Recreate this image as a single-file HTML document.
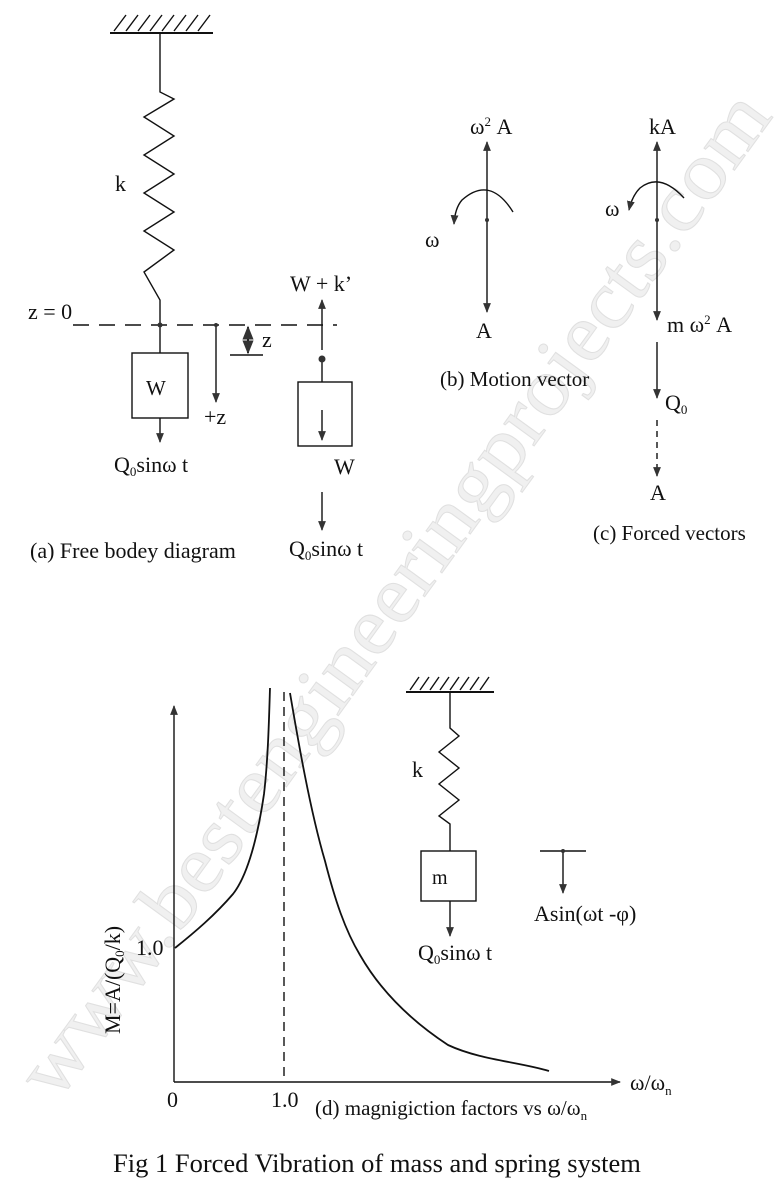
<!DOCTYPE html>
<html><head><meta charset="utf-8"><style>
html,body{margin:0;padding:0;background:#fff}
svg{display:block}
text{font-family:"Liberation Serif",serif;fill:#111}
</style></head><body>
<svg width="775" height="1200" viewBox="0 0 775 1200" xmlns="http://www.w3.org/2000/svg">
<defs>
<marker id="ah" viewBox="0 0 10 10" refX="9" refY="5" markerWidth="7" markerHeight="7" orient="auto-start-reverse"><path d="M0,1 L10,5 L0,9 z" fill="#333"/></marker>
</defs>
<!-- watermark -->
<text x="395" y="620" text-anchor="middle" font-size="82" transform="rotate(-54 395 595)" style="fill:#f0f0f0;stroke:#e0e0e0;stroke-width:1" textLength="1220" lengthAdjust="spacingAndGlyphs">www.bestengineeringprojects.com</text>

<g stroke="#111" stroke-width="1.4" fill="none">
<!-- (a) ground -->
<line x1="110" y1="33" x2="213" y2="33" stroke-width="2"/>
<path d="M114,31 l12,-16 M126,31 l12,-16 M138,31 l12,-16 M150,31 l12,-16 M162,31 l12,-16 M174,31 l12,-16 M186,31 l12,-16 M198,31 l12,-16"/>
<polyline points="160,33 160,92 174,99 144,117 174,136 144,155 174,174 144,193 174,212 144,231 174,250 144,272 160,300 160,353"/>
<line x1="73" y1="325" x2="337" y2="325" stroke-dasharray="16,10"/>
<rect x="132" y="353" width="56" height="65"/>
<line x1="160" y1="418" x2="160" y2="442" marker-end="url(#ah)"/>
<line x1="216" y1="325" x2="216" y2="402" marker-end="url(#ah)"/>
<line x1="248" y1="327" x2="248" y2="353" marker-start="url(#ah)" marker-end="url(#ah)" stroke-width="2"/>
<line x1="230" y1="355" x2="263" y2="355"/>
<line x1="322" y1="350" x2="322" y2="300" marker-end="url(#ah)"/>
<rect x="298" y="382" width="54" height="64"/>
<line x1="322" y1="358" x2="322" y2="382"/>
<line x1="322" y1="410" x2="322" y2="440" marker-end="url(#ah)"/>
<line x1="322" y1="492" x2="322" y2="530" marker-end="url(#ah)"/>

<!-- (b) -->
<line x1="487" y1="220" x2="487" y2="142" marker-end="url(#ah)"/>
<line x1="487" y1="220" x2="487" y2="312" marker-end="url(#ah)"/>
<path d="M513,212 Q490,175 462,200 Q455,208 454,224" marker-end="url(#ah)"/>
<!-- (c) -->
<line x1="657" y1="220" x2="657" y2="142" marker-end="url(#ah)"/>
<line x1="657" y1="220" x2="657" y2="320" marker-end="url(#ah)"/>
<path d="M684,198 Q660,172 640,188 Q632,196 629,210" marker-end="url(#ah)"/>
<line x1="657" y1="342" x2="657" y2="398" marker-end="url(#ah)"/>
<line x1="657" y1="420" x2="657" y2="476" stroke-dasharray="6,5" marker-end="url(#ah)"/>

<!-- (d) axes -->
<line x1="174" y1="1082" x2="174" y2="706" marker-end="url(#ah)"/>
<line x1="174" y1="1082" x2="620" y2="1082" marker-end="url(#ah)"/>
<line x1="284" y1="692" x2="284" y2="1082" stroke-dasharray="9,6"/>
<path d="M175,948 C195,932 215,915 233,894 C248,875 258,835 264,794 C268,760 269,720 270,688" stroke-width="1.8"/>
<path d="M290,693 C298,740 310,810 325,861 C335,900 345,930 360,955 C380,990 410,1020 448,1045 C480,1060 520,1062 549,1071" stroke-width="1.8"/>
<!-- small system -->
<line x1="406" y1="692" x2="494" y2="692" stroke-width="2"/>
<path d="M410,690 l9,-13 M420,690 l9,-13 M430,690 l9,-13 M440,690 l9,-13 M450,690 l9,-13 M460,690 l9,-13 M470,690 l9,-13 M480,690 l9,-13"/>
<polyline points="450,692 450,728 459,736 439,752 459,768 439,784 459,800 439,816 450,824 450,851"/>
<rect x="421" y="851" width="55" height="50"/>
<line x1="450" y1="901" x2="450" y2="936" marker-end="url(#ah)"/>
<line x1="540" y1="851" x2="586" y2="851"/>
<line x1="563" y1="851" x2="563" y2="893" marker-end="url(#ah)"/>
</g>
<g fill="#333">
<circle cx="160" cy="325" r="2.5"/><circle cx="216" cy="325" r="2"/>
<circle cx="322" cy="359" r="3.5"/>
<circle cx="487" cy="220" r="2"/><circle cx="657" cy="220" r="2"/>
<circle cx="563" cy="851" r="2"/>
</g>

<g font-size="22">
<text x="115" y="191">k</text>
<text x="28" y="319">z = 0</text>
<text x="262" y="347">z</text>
<text x="146" y="395" font-size="21">W</text>
<text x="204" y="424">+z</text>
<text x="114" y="472">Q<tspan font-size="13" dy="4">0</tspan><tspan dy="-4">sinω t</tspan></text>
<text x="290" y="291">W + k’</text>
<text x="334" y="474">W</text>
<text x="289" y="556">Q<tspan font-size="13" dy="4">0</tspan><tspan dy="-4">sinω t</tspan></text>
<text x="30" y="558" font-size="22">(a) Free bodey diagram</text>

<text x="470" y="134">ω<tspan font-size="13" dy="-8">2</tspan><tspan dy="8"> A</tspan></text>
<text x="425" y="247">ω</text>
<text x="476" y="338">A</text>
<text x="440" y="386" font-size="21">(b) Motion vector</text>

<text x="649" y="134">kA</text>
<text x="605" y="216">ω</text>
<text x="667" y="332">m ω<tspan font-size="13" dy="-8">2</tspan><tspan dy="8"> A</tspan></text>
<text x="665" y="410">Q<tspan font-size="13" dy="4">0</tspan></text>
<text x="650" y="500">A</text>
<text x="593" y="540" font-size="21">(c) Forced vectors</text>

<text x="412" y="777">k</text>
<text x="432" y="884" font-size="20">m</text>
<text x="418" y="960">Q<tspan font-size="13" dy="4">0</tspan><tspan dy="-4">sinω t</tspan></text>
<text x="534" y="921">Asin(ωt -φ)</text>
<text x="136" y="955">1.0</text>
<text x="0" y="0" transform="translate(120,1034) rotate(-90)">M=A/(Q<tspan font-size="13" dy="4">0</tspan><tspan dy="-4">/k)</tspan></text>
<text x="167" y="1107">0</text>
<text x="271" y="1107">1.0</text>
<text x="630" y="1090">ω/ω<tspan font-size="13" dy="5">n</tspan></text>
<text x="315" y="1115" font-size="21">(d) magnigiction factors vs ω/ω<tspan font-size="13" dy="5">n</tspan></text>
<text x="113" y="1172" font-size="26.5">Fig 1 Forced Vibration of mass and spring system</text>
</g>
</svg>
</body></html>
